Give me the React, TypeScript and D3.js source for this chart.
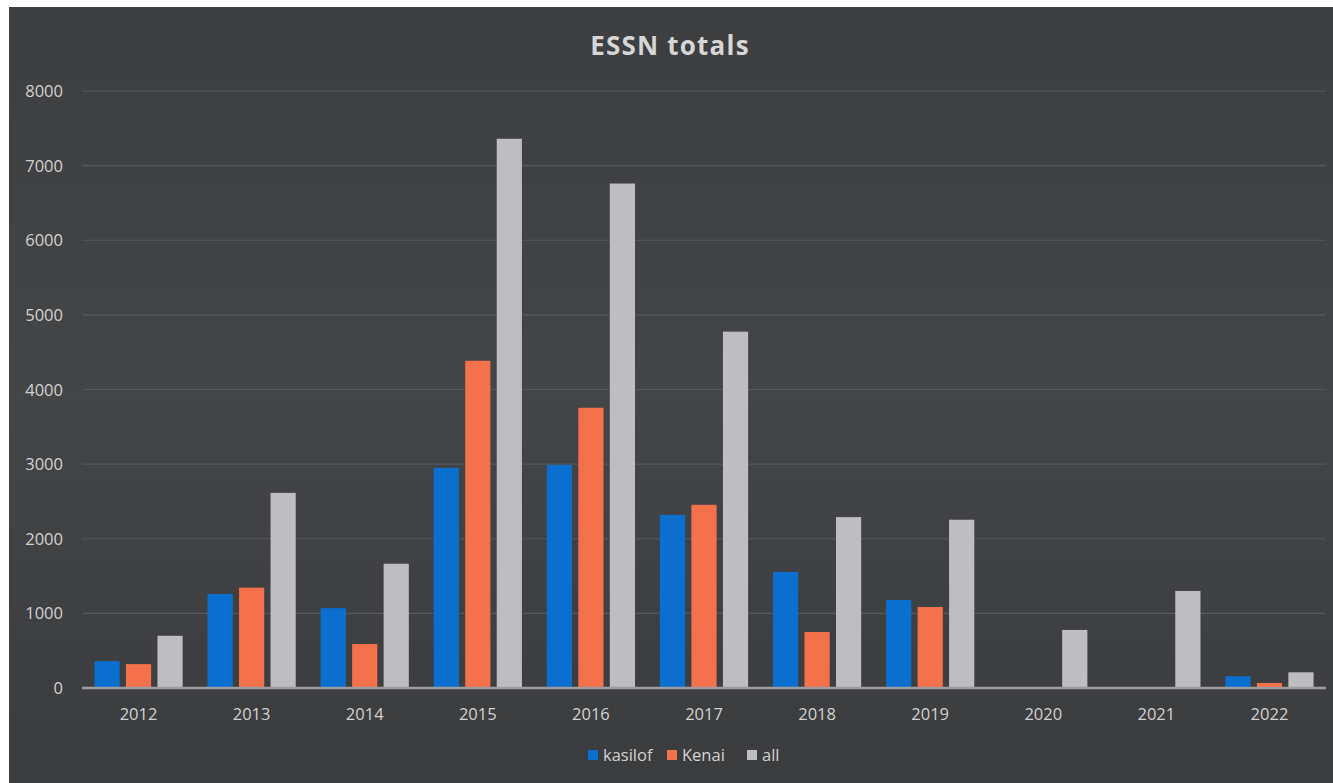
import { scaleBand, scaleLinear } from 'd3'

const years = ['2012', '2013', '2014', '2015', '2016', '2017', '2018', '2019', '2020', '2021', '2022']
const kasilof = [360, 1260, 1070, 2950, 2990, 2320, 1555, 1180, 0, 0, 157]
const kenai = [320, 1345, 590, 4385, 3755, 2455, 750, 1085, 0, 0, 67]
const all = [700, 2615, 1665, 7360, 6760, 4775, 2290, 2255, 778, 1300, 210]
const yTicks = [0, 1000, 2000, 3000, 4000, 5000, 6000, 7000, 8000]

const seriesNames = ['kasilof', 'Kenai', 'all']
const seriesColors = ['#0b6fd0', '#f4714b', '#bebdc1']

const W = 1333
const H = 783
const font = "'Open Sans', 'Liberation Sans', sans-serif"

export default function App() {
  const x = scaleBand().domain(years).range([82, 1326]).paddingInner(0.22).paddingOuter(0.11)
  const inner = scaleBand().domain(seriesNames).range([0, x.bandwidth()]).paddingInner(0.2)
  const y = scaleLinear().domain([0, 8000]).range([688, 91])
  const series = [kasilof, kenai, all]

  return (
    <svg width={W} height={H} style={{ position: 'absolute', left: 0, top: 0 }}>
      <defs>
        <linearGradient id='bg' x1='0' y1='0' x2='0' y2='1'>
          <stop offset='0' stopColor='#3d3e40' />
          <stop offset='0.5' stopColor='#444547' />
          <stop offset='1' stopColor='#3b3c3e' />
        </linearGradient>
      </defs>
      <rect width={W} height={H} fill='#ffffff' />
      <rect x={9} y={7} width={W - 9} height={H - 7} fill='url(#bg)' />
      <text x={670} y={55} textAnchor='middle' fill='#d6d6d6' fontFamily={font} fontSize={26} fontWeight='bold' letterSpacing={1.2}>
        ESSN totals
      </text>

      {yTicks.map(t => (
        <g key={t}>
          {t > 0 && <line x1={82} x2={1326} y1={y(t)} y2={y(t)} stroke='#55575a' strokeWidth={1.2} />}
          <text x={63} y={y(t) + 6} textAnchor='end' fill='#d2d2d2' fontFamily={font} fontSize={16.5}>{t}</text>
        </g>
      ))}

      {series.map((vals, si) => (
        <g key={si} fill={seriesColors[si]}>
          {vals.map((v, i) => (
            <rect key={i}
              x={(x(years[i]) ?? 0) + (inner(seriesNames[si]) ?? 0)}
              y={y(v)}
              width={inner.bandwidth()}
              height={y(0) - y(v)} />
          ))}
        </g>
      ))}

      <line x1={82} x2={1326} y1={y(0)} y2={y(0)} stroke='#9d9d9f' strokeWidth={2.5} />

      {years.map(yr => (
        <text key={yr} x={(x(yr) ?? 0) + x.bandwidth() / 2} y={720} textAnchor='middle' fill='#d2d2d2' fontFamily={font} fontSize={16.5}>{yr}</text>
      ))}

      {seriesNames.map((n, i) => {
        const lx = [588, 667, 747][i]
        return (
          <g key={n}>
            <rect x={lx} y={750} width={10} height={10} fill={seriesColors[i]} />
            <text x={lx + 15} y={761} fill='#d2d2d2' fontFamily={font} fontSize={16.5}>{n}</text>
          </g>
        )
      })}
    </svg>
  )
}
